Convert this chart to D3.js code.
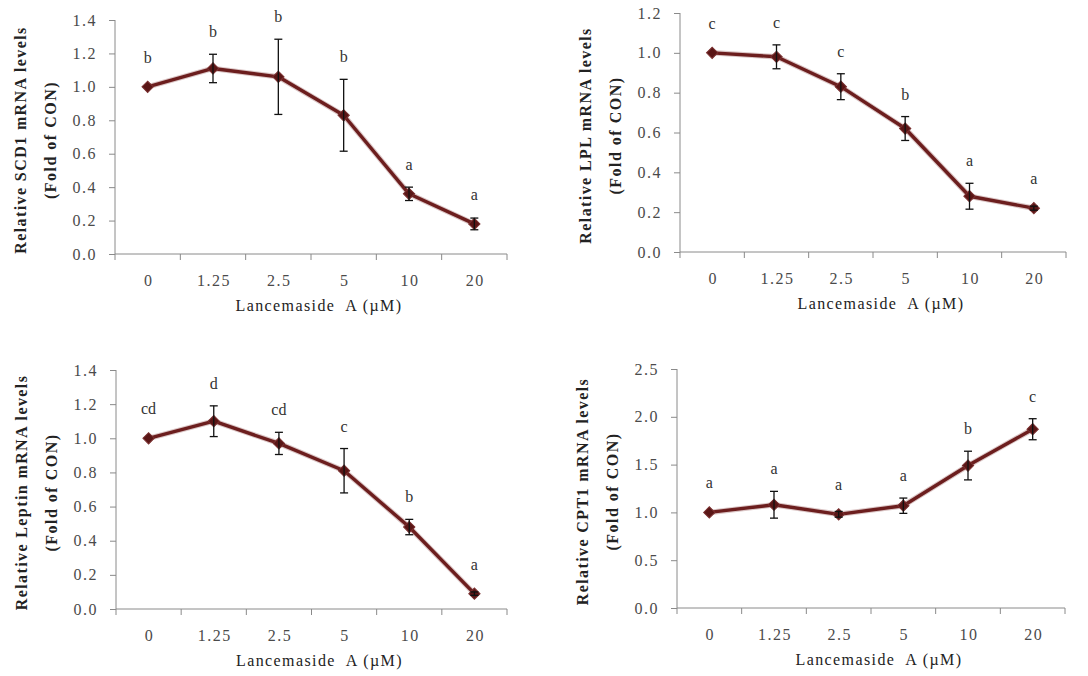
<!DOCTYPE html>
<html>
<head>
<meta charset="utf-8">
<script src="https://cdn.jsdelivr.net/npm/d3@7"></script>
<style>
  html, body { margin: 0; padding: 0; background: #fff; }
  svg { display: block; }
  text { font-family: "Liberation Serif", "Times New Roman", serif; }
</style>
</head>
<body>
<svg id="chart" width="1088" height="676"></svg>
<script>
// Lancemaside A concentrations (µM)
const doses = ["0", "1.25", "2.5", "5", "10", "20"];

// SCD1
const scd1Mean = [1.00, 1.11, 1.06, 0.83, 0.36, 0.18];
const scd1Err = [0, 0.085, 0.225, 0.215, 0.04, 0.035];
const scd1Groups = ["b", "b", "b", "b", "a", "a"];
const scd1Ticks = [0, 0.2, 0.4, 0.6, 0.8, 1.0, 1.2, 1.4];

// LPL
const lplMean = [1.00, 0.98, 0.83, 0.62, 0.28, 0.22];
const lplErr = [0, 0.06, 0.065, 0.06, 0.065, 0.01];
const lplGroups = ["c", "c", "c", "b", "a", "a"];
const lplTicks = [0, 0.2, 0.4, 0.6, 0.8, 1.0, 1.2];

// Leptin
const leptinMean = [1.00, 1.10, 0.97, 0.81, 0.48, 0.09];
const leptinErr = [0, 0.09, 0.065, 0.13, 0.045, 0.01];
const leptinGroups = ["cd", "d", "cd", "c", "b", "a"];
const leptinTicks = [0, 0.2, 0.4, 0.6, 0.8, 1.0, 1.2, 1.4];

// CPT1
const cpt1Mean = [1.00, 1.08, 0.98, 1.07, 1.49, 1.87];
const cpt1Err = [0, 0.14, 0.03, 0.08, 0.15, 0.11];
const cpt1Groups = ["a", "a", "a", "a", "b", "c"];
const cpt1Ticks = [0, 0.5, 1.0, 1.5, 2.0, 2.5];

const xTitle = "Lancemaside  A (\u00b5M)";

const panels = [
  { gene: "SCD1", mean: scd1Mean, err: scd1Err, groups: scd1Groups, ticks: scd1Ticks,
    box: { left: 115, right: 507, top: 20, bottom: 254 } },
  { gene: "LPL", mean: lplMean, err: lplErr, groups: lplGroups, ticks: lplTicks,
    box: { left: 680, right: 1066, top: 13, bottom: 252 } },
  { gene: "Leptin", mean: leptinMean, err: leptinErr, groups: leptinGroups, ticks: leptinTicks,
    box: { left: 116, right: 507, top: 370, bottom: 609 } },
  { gene: "CPT1", mean: cpt1Mean, err: cpt1Err, groups: cpt1Groups, ticks: cpt1Ticks,
    box: { left: 677, right: 1065, top: 369, bottom: 608 } }
];

const lineColor = "#6c1e1e";
const axisColor = "#8a8a8a";
const tickTextColor = "#4a4a4a";
const fmt = d3.format(".1f");

const svg = d3.select("#chart");

panels.forEach(p => {
  const b = p.box;
  const g = svg.append("g");

  const x = d3.scaleBand().domain(doses).range([b.left, b.right]).padding(0);
  const y = d3.scaleLinear().domain([0, d3.max(p.ticks)]).range([b.bottom, b.top]);

  // y axis
  const yAxis = g.append("g")
    .attr("transform", `translate(${b.left},0)`)
    .call(d3.axisLeft(y).tickValues(p.ticks).tickFormat(fmt).tickSize(6).tickPadding(12));
  yAxis.select(".domain").attr("stroke", axisColor).attr("d", `M0,${b.top}V${b.bottom}`);
  yAxis.selectAll(".tick line").attr("stroke", axisColor);
  yAxis.selectAll(".tick text")
    .attr("fill", tickTextColor)
    .style("font-size", "16px")
    .style("letter-spacing", "1.5px")
    .style("font-family", "'Liberation Serif', serif");

  // x axis: ticks at category boundaries
  const edges = doses.map(d => x(d)).concat([x(doses[doses.length - 1]) + x.bandwidth()]);
  const xAxisG = g.append("g").attr("transform", `translate(0,${b.bottom})`);
  xAxisG.append("line")
    .attr("x1", b.left).attr("x2", b.right)
    .attr("stroke", axisColor);
  xAxisG.selectAll("line.edge").data(edges).join("line")
    .attr("class", "edge")
    .attr("x1", d => d).attr("x2", d => d)
    .attr("y1", 0).attr("y2", 6)
    .attr("stroke", axisColor);
  xAxisG.selectAll("text.cat").data(doses).join("text")
    .attr("class", "cat")
    .attr("x", d => x(d) + x.bandwidth() / 2 + 1)
    .attr("y", 32)
    .attr("text-anchor", "middle")
    .attr("fill", tickTextColor)
    .style("font-size", "16px")
    .style("letter-spacing", "1.5px")
    .text(d => d);

  // x title
  g.append("text")
    .attr("x", (b.left + b.right) / 2 + 8)
    .attr("y", b.bottom + 57)
    .attr("text-anchor", "middle")
    .attr("fill", "#222")
    .style("font-size", "16px")
    .style("letter-spacing", "1.4px")
    .style("white-space", "pre")
    .text(xTitle);

  // y title (two lines, rotated)
  const midY = (b.top + b.bottom) / 2 + 3;
  g.append("text")
    .attr("transform", `translate(${b.left - 89},${midY}) rotate(-90)`)
    .attr("text-anchor", "middle")
    .attr("fill", "#222")
    .style("font-size", "16px")
    .style("font-weight", "bold")
    .style("letter-spacing", "1.4px")
    .text(`Relative ${p.gene} mRNA levels`);
  g.append("text")
    .attr("transform", `translate(${b.left - 59},${midY}) rotate(-90)`)
    .attr("text-anchor", "middle")
    .attr("fill", "#222")
    .style("font-size", "16px")
    .style("font-weight", "bold")
    .style("letter-spacing", "1.5px")
    .text("(Fold of CON)");

  const rows = doses.map((d, i) => ({ dose: d, mean: p.mean[i], err: p.err[i], grp: p.groups[i] }));
  const cx = d => x(d.dose) + x.bandwidth() / 2;

  // connecting line
  const line = d3.line().x(cx).y(d => y(d.mean));
  g.append("path")
    .datum(rows)
    .attr("d", line)
    .attr("fill", "none")
    .attr("stroke", "#b08080")
    .attr("stroke-width", 5.5)
    .attr("stroke-opacity", 0.45)
    .attr("stroke-linejoin", "round");
  g.append("path")
    .datum(rows)
    .attr("d", line)
    .attr("fill", "none")
    .attr("stroke", lineColor)
    .attr("stroke-width", 3.4)
    .attr("stroke-linejoin", "round");

  // diamond markers
  const diamond = d3.symbol().type(d3.symbolSquare).size(64);
  g.selectAll("path.mk").data(rows).join("path")
    .attr("class", "mk")
    .attr("d", diamond)
    .attr("transform", d => `translate(${cx(d)},${y(d.mean)}) rotate(45)`)
    .attr("fill", "#5a1616")
    .attr("stroke", "#7a3030")
    .attr("stroke-width", 1);

  // error bars
  const eb = g.selectAll("g.eb").data(rows.filter(d => d.err > 0)).join("g").attr("class", "eb");
  eb.append("line")
    .attr("x1", cx).attr("x2", cx)
    .attr("y1", d => y(d.mean + d.err)).attr("y2", d => y(d.mean - d.err))
    .attr("stroke", "#111").attr("stroke-width", 1.3);
  eb.append("line")
    .attr("x1", d => cx(d) - 4).attr("x2", d => cx(d) + 4)
    .attr("y1", d => y(d.mean + d.err)).attr("y2", d => y(d.mean + d.err))
    .attr("stroke", "#111").attr("stroke-width", 1.3);
  eb.append("line")
    .attr("x1", d => cx(d) - 4).attr("x2", d => cx(d) + 4)
    .attr("y1", d => y(d.mean - d.err)).attr("y2", d => y(d.mean - d.err))
    .attr("stroke", "#111").attr("stroke-width", 1.3);

  // significance letters above each point
  g.selectAll("text.grp").data(rows).join("text")
    .attr("class", "grp")
    .attr("x", d => cx(d))
    .attr("y", d => Math.min(y(d.mean + d.err), y(d.mean) - 7) - 17)
    .attr("text-anchor", "middle")
    .attr("fill", "#333")
    .style("font-size", "16px")
    .text(d => d.grp);
});
</script>
</body>
</html>
